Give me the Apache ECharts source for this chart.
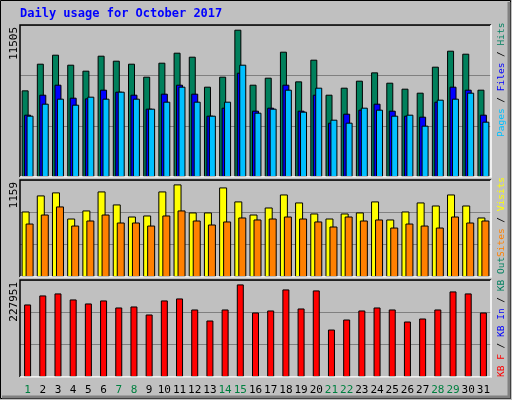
<!DOCTYPE html>
<html>
<head>
<meta charset="utf-8">
<script src="https://cdn.jsdelivr.net/npm/echarts@6/dist/echarts.min.js"></script>
<style>
html, body { margin: 0; padding: 0; background: #c0c0c0; }
#chart { width: 512px; height: 400px; }
</style>
</head>
<body>
<div id="chart"></div>
<script>
// data
var days = ['1','2','3','4','5','6','7','8','9','10','11','12','13','14','15','16',
            '17','18','19','20','21','22','23','24','25','26','27','28','29','30','31']
var weekendDays = ['1','7','8','14','15','21','22','28','29']

var hits = [6768,8850,9553,8772,8304,9475,9084,8850,7835,8928,9709,9397,7054,7835,11505,7210,
            7757,9787,7471,9163,6429,6976,7523,8173,7366,6898,6586,8616,9865,9631,6820]
var files = [4868,6429,7210,6195,6143,6820,6664,6429,5336,6508,7210,6508,4790,5414,8147,5180,
             5414,7210,5180,6429,4243,4946,5258,5727,5180,4790,4711,5883,7054,6820,4868]
var pages = [4790,5727,6117,5649,6273,6117,6664,6117,5336,5883,7054,5883,4790,5883,8772,5024,
             5336,6820,5102,6976,4477,4243,5414,5258,4790,4868,4009,6039,6117,6586,4321]
var visits = [820,1021,1059,732,833,1071,908,757,770,1071,1159,808,808,1121,946,782,
              870,1033,933,795,732,795,808,946,720,820,933,895,1033,895,745]
var sites = [669,782,883,644,707,782,682,682,644,770,833,707,657,695,745,720,
             732,757,732,695,632,757,707,720,619,669,644,619,757,682,707]
var kbytes = [178570,200790,205730,190920,181040,188450,171170,173630,153890,188450,193390,166230,139070,166230,227951,158820,
              163760,215600,168700,213130,116850,141540,163760,171170,166230,136600,144010,166230,210660,205730,158820]

var font = 'DejaVu Sans Mono'
var grids = [
    { top: 25, height: 152 },
    { top: 180, height: 97 },
    { top: 280, height: 97 }
]
var axisMax = [11872, 1214, 238800]
var maxLabel = ['11505', '1159', '227951']

var chart = echarts.init(document.getElementById('chart'))

var xAxes = [], yAxes = [], gridList = []
for (var i = 0; i < 3; i++) {
    gridList.push({ left: 20, width: 471, top: grids[i].top, height: grids[i].height })
    xAxes.push({
        type: 'category', gridIndex: i, data: days,
        axisLine: { show: false }, axisTick: { show: false },
        axisLabel: {
            show: i == 2, interval: 0, margin: 8,
            fontFamily: font, fontSize: 11, color: '#000',
            formatter: function (v) {
                return weekendDays.indexOf(v) >= 0 ? '{w|' + v + '}' : v
            },
            rich: { w: { color: '#008040', fontFamily: font, fontSize: 11 } }
        }
    })
    yAxes.push({
        type: 'value', gridIndex: i, min: 0, max: axisMax[i], interval: axisMax[i] / 3,
        axisLabel: { show: false }, axisLine: { show: false }, axisTick: { show: false },
        splitLine: { lineStyle: { color: '#808080', width: 1 } }
    })
}

var bord = { borderColor: '#000', borderWidth: 1 }
function bar(name, data, idx, color, width, gap) {
    return {
        name: name, type: 'bar', xAxisIndex: idx, yAxisIndex: idx, data: data,
        barWidth: width, barGap: gap, silent: true, animation: false,
        itemStyle: Object.assign({ color: color }, bord)
    }
}

// frames and side labels
var graphics = [
    { type: 'rect', shape: { x: 0.5, y: 0.5, width: 510, height: 398 },
      style: { fill: 'none', stroke: '#000', lineWidth: 1 } },
    { type: 'polyline', shape: { points: [[2, 397], [509, 397], [509, 2]] },
      style: { stroke: '#808080', lineWidth: 3, fill: null } },
    { type: 'text', x: 20, y: 8, style: { text: 'Daily usage for October 2017', fill: '#0000ff',
      font: 'bold 12px "' + font + '"' } }
]
for (var j = 0; j < 3; j++) {
    var g = gridList[j]
    graphics.push({ type: 'polyline', z: 10,
        shape: { points: [[20, g.top + g.height], [20, g.top], [491, g.top]] },
        style: { stroke: '#000', lineWidth: 1.5, fill: null } })
    graphics.push({ type: 'polyline', z: 10,
        shape: { points: [[20, g.top + g.height], [491, g.top + g.height], [491, g.top]] },
        style: { stroke: '#fff', lineWidth: 1.5, fill: null } })
    graphics.push({ type: 'text', x: 9, y: g.top + 2, rotation: Math.PI / 2,
        style: { text: maxLabel[j], fill: '#000', font: '11px "' + font + '"',
                 align: 'right', verticalAlign: 'top' } })
}
function sideLabel(y, parts) {
    var txt = parts.map(function (p) { return '{' + p[1] + '|' + p[0] + '}' }).join('')
    var rich = {}
    parts.forEach(function (p) { rich[p[1]] = { fill: p[2], font: '9.5px "' + font + '"' } })
    return { type: 'text', x: 497, y: y, rotation: Math.PI / 2,
             style: { text: txt, rich: rich, align: 'left', verticalAlign: 'top' } }
}
graphics.push(sideLabel(137, [['Pages', 'a', '#00c0ff'], [' / ', 'k', '#000'], ['Files', 'b', '#0000ff'],
                             [' / ', 'k', '#000'], ['Hits', 'c', '#008060']]))
graphics.push(sideLabel(257, [['Sites', 'a', '#ff8000'], [' / ', 'k', '#000'], ['Visits', 'b', '#ffff00']]))
graphics.push(sideLabel(377, [['KB F', 'a', '#ff0000'], [' / ', 'k', '#000'], ['KB In', 'b', '#0000ff'],
                             [' / ', 'k', '#000'], ['KB Out', 'c', '#008060']]))

var option = {
    backgroundColor: '#c0c0c0',
    animation: false,
    grid: gridList,
    xAxis: xAxes,
    yAxis: yAxes,
    graphic: graphics,
    series: [
        bar('Hits', hits, 0, '#00805c', 7, '-65%'),
        bar('Files', files, 0, '#0000ff', 7, '-65%'),
        bar('Pages', pages, 0, '#00c0ff', 7, '-65%'),
        bar('Visits', visits, 1, '#ffff00', 8, '-50%'),
        bar('Sites', sites, 1, '#ff8000', 8, '-50%'),
        bar('KB F', kbytes, 2, '#ff0000', 7, '0%')
    ]
}
chart.setOption(option)
</script>
</body>
</html>
